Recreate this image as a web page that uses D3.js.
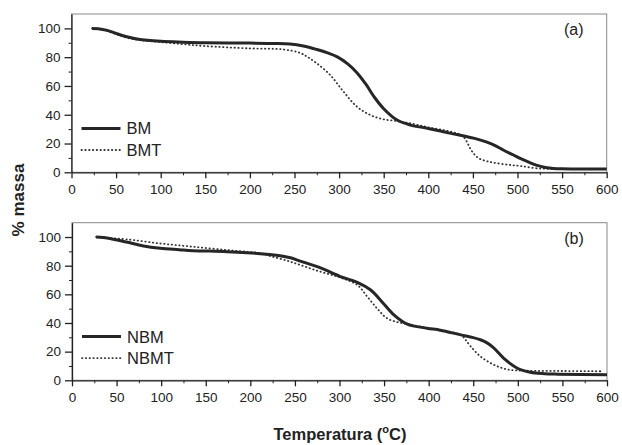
<!DOCTYPE html>
<html>
<head>
<meta charset="utf-8">
<script src="https://cdn.jsdelivr.net/npm/d3@7"></script>
<style>
  body { margin: 0; background: #fff; }
  svg { display: block; font-family: "Liberation Sans", Arial, sans-serif; }
  .tick text { fill: #222; font-size: 13.5px; }
  .axis path, .axis line { stroke: #222; }
</style>
</head>
<body>
<div id="grafico"></div>
<script>
// dados (TGA)
var xTicks = [0, 50, 100, 150, 200, 250, 300, 350, 400, 450, 500, 550, 600];
var yTicks = [0, 20, 40, 60, 80, 100];

var bmT = [23, 30, 40, 50, 62, 75, 100, 125, 150, 200, 225, 245, 260, 275, 288, 298, 310, 320, 330, 340, 350, 365, 380, 400, 424, 440, 452, 465, 475, 484, 495, 503, 512, 521, 533, 550, 600];
var bmM = [100, 99.8, 98.6, 96.5, 94.2, 92.4, 91.0, 90.4, 90.0, 89.8, 89.5, 89.1, 87.7, 85.3, 82.8, 80.2, 75.2, 69.2, 61.2, 51.8, 44.2, 36.3, 32.8, 30.5, 27.2, 25.2, 23.6, 21.1, 18.5, 15.5, 12.2, 9.7, 7.2, 5, 3.2, 2.4, 2.3];

var bmtT = [23, 30, 40, 50, 62, 75, 100, 125, 150, 200, 237, 256, 265, 275, 290, 305, 320, 335, 350, 365, 380, 400, 428, 438, 443, 447, 452, 457, 465, 473, 490, 503, 521, 540, 600];
var bmtM = [100, 99.6, 98.2, 96, 93.5, 92, 90.5, 89, 87.7, 86.1, 85.4, 83, 80, 75.7, 67.6, 56, 45.6, 39.8, 36.8, 35.6, 34, 31.3, 27.8, 25.4, 21.5, 16.5, 12.2, 9.6, 7.8, 6.7, 5.2, 4.4, 2.8, 2.4, 2.3];

var nbmT = [27, 35, 45, 61, 80, 99, 120, 136, 174, 211, 233, 245, 256, 278, 301, 320, 335, 349, 361, 376, 398, 413, 436, 450, 458, 465, 472, 484, 499, 514, 530, 545, 600];
var nbmM = [100, 99.6, 98.6, 96.5, 93.8, 92.2, 91.2, 90.5, 89.8, 88.4, 87, 85.5, 83.2, 78.6, 72.4, 68.4, 63, 53.8, 45.7, 39.2, 36.4, 35, 31.7, 29.8, 28.3, 26.3, 23.2, 15.5, 8.6, 5.6, 4.6, 4.3, 3.9];

var nbmtT = [27, 40, 61, 99, 136, 174, 200, 211, 223, 240, 256, 278, 301, 320, 331, 342, 353, 365, 376, 398, 413, 436, 441, 447, 458, 473, 488, 510, 550, 593];
var nbmtM = [100, 99.3, 98.4, 95.5, 93.2, 90.9, 89.5, 88.8, 86.6, 83.7, 80.5, 75.9, 71.7, 66.5, 58.5, 50.3, 43.4, 40.6, 39.3, 36.6, 35.1, 31.7, 28.5, 23.7, 16.7, 10.9, 7.6, 6.7, 6.5, 6.3];

var W = 622, H = 445;
var svg = d3.select("#grafico").append("svg").attr("width", W).attr("height", H);

function painel(top, bottom, left, right, s1, s2, nomes, rotulo) {
    var x = d3.scaleLinear().domain([0, 600]).range([left, right]);
    var y = d3.scaleLinear().domain([0, 110]).range([bottom, top]);
    var g = svg.append("g");

    // moldura (topo e direita mais claros)
    g.append("rect")
            .attr("x", left).attr("y", top)
            .attr("width", right - left).attr("height", bottom - top)
            .attr("fill", "none").attr("stroke", "#888").attr("stroke-width", 1);

    // ticks menores
    g.append("g").attr("class", "axis")
            .attr("transform", "translate(0," + bottom + ")")
            .call(d3.axisBottom(x).tickValues(d3.range(25, 600, 50)).tickSize(3).tickFormat(""))
            .select(".domain").remove();
    g.append("g").attr("class", "axis")
            .attr("transform", "translate(" + left + ",0)")
            .call(d3.axisLeft(y).tickValues([10, 30, 50, 70, 90]).tickSize(3).tickFormat(""))
            .select(".domain").remove();

    g.append("g").attr("class", "axis")
            .attr("transform", "translate(0," + bottom + ")")
            .call(d3.axisBottom(x).tickValues(xTicks).tickSize(6).tickPadding(6).tickSizeOuter(0))
            .selectAll("path,line").attr("stroke-width", 1.3);
    g.append("g").attr("class", "axis")
            .attr("transform", "translate(" + left + ",0)")
            .call(d3.axisLeft(y).tickValues(yTicks).tickSize(7).tickPadding(4).tickSizeOuter(0))
            .selectAll("path,line").attr("stroke-width", 1.3);

    var line = d3.line()
            .x(function (d) { return x(d[0]); })
            .y(function (d) { return y(d[1]); })
            .curve(d3.curveCatmullRom.alpha(0.5));

    g.append("path")
            .datum(d3.zip(s2[0], s2[1]))
            .attr("d", line)
            .attr("fill", "none").attr("stroke", "#333")
            .attr("stroke-width", 1.8).attr("stroke-dasharray", "0.4,3.4")
            .attr("stroke-linecap", "round");
    g.append("path")
            .datum(d3.zip(s1[0], s1[1]))
            .attr("d", line)
            .attr("fill", "none").attr("stroke", "#262626")
            .attr("stroke-width", 3);

    // legenda
    var ly = y(30.5);
    g.append("line").attr("x1", left + 10).attr("x2", left + 49)
            .attr("y1", ly).attr("y2", ly)
            .attr("stroke", "#262626").attr("stroke-width", 3);
    g.append("text").attr("x", left + 55).attr("y", ly + 6)
            .attr("font-size", "16.5px").attr("fill", "#222").text(nomes[0]);
    var ly2 = y(15.5);
    g.append("line").attr("x1", left + 10).attr("x2", left + 49)
            .attr("y1", ly2).attr("y2", ly2)
            .attr("stroke", "#333").attr("stroke-width", 1.8)
            .attr("stroke-dasharray", "0.4,3.4").attr("stroke-linecap", "round");
    g.append("text").attr("x", left + 55).attr("y", ly2 + 6)
            .attr("font-size", "16.5px").attr("fill", "#222").text(nomes[1]);

    g.append("text").attr("x", right - 33).attr("y", top + 21)
            .attr("text-anchor", "middle")
            .attr("font-size", "16px").attr("fill", "#222").text(rotulo);
}

painel(14, 172.3, 71.5, 606.7, [bmT, bmM], [bmtT, bmtM], ["BM", "BMT"], "(a)");
painel(222.7, 380.3, 72, 607, [nbmT, nbmM], [nbmtT, nbmtM], ["NBM", "NBMT"], "(b)");

svg.append("text")
        .attr("transform", "translate(24,200) rotate(-90)")
        .attr("text-anchor", "middle")
        .attr("font-size", "17px").attr("font-weight", "bold").attr("fill", "#222")
        .text("% massa");

var tx = svg.append("text")
        .attr("x", 340).attr("y", 440)
        .attr("text-anchor", "middle")
        .attr("font-size", "16.5px").attr("font-weight", "bold").attr("fill", "#222");
tx.append("tspan").text("Temperatura (");
tx.append("tspan").attr("font-size", "11px").attr("dy", -7).text("o");
tx.append("tspan").attr("dy", 7).text("C)");
</script>
</body>
</html>
